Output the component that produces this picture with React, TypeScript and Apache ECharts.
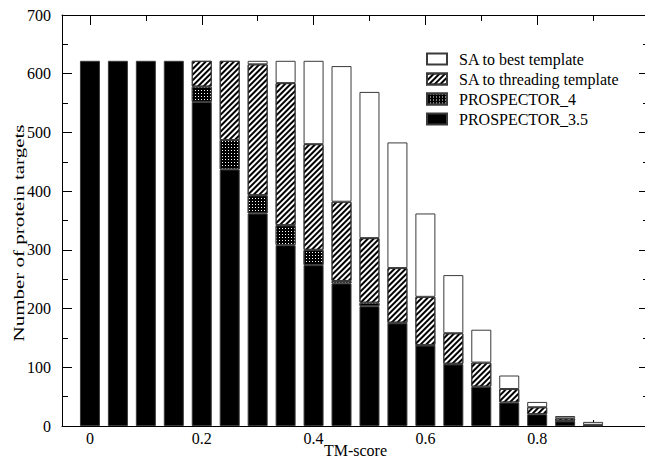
import React, { useEffect, useRef } from "react";
import * as echarts from "echarts";

const tmScores = [0, 0.05, 0.1, 0.15, 0.2, 0.25, 0.3, 0.35, 0.4, 0.45, 0.5, 0.55, 0.6, 0.65, 0.7, 0.75, 0.8, 0.85, 0.9, 0.95];
const prospector35 = [622, 622, 622, 622, 552, 437, 362, 308, 274, 243, 204, 175, 137, 105, 67, 40, 20, 8, 1, 0];
const prospector4 = [622, 622, 622, 622, 578, 487, 393, 342, 300, 247, 210, 176, 138, 106, 67, 40, 20, 9, 1, 0];
const saThreading = [622, 622, 622, 622, 622, 622, 616, 584, 480, 382, 320, 269, 220, 158, 108, 63, 32, 13, 2, 0];
const saBest = [622, 622, 622, 622, 622, 622, 622, 622, 622, 613, 569, 483, 362, 257, 164, 86, 41, 17, 7, 0];
const xMajorTicks = [0, 0.2, 0.4, 0.6, 0.8];
const xMinorTicks = [0.1, 0.3, 0.5, 0.7, 0.9];
const xMin = -0.05;
const xMax = 1.0;
const seriesNames = ["PROSPECTOR_3.5", "PROSPECTOR_4", "SA to threading template", "SA to best template"];
const legendOrder = ["SA to best template", "SA to threading template", "PROSPECTOR_4", "PROSPECTOR_3.5"];

const FONT = '"Liberation Serif", "Times New Roman", serif';

// hidden category axis spanning xMin..xMax so bar centres land on the TM-score values
const barCategories = [String(xMin), ...tmScores.map(String), String(xMax)];

function increments(cur: number[], prev: number[] | null) {
  const d = tmScores.map((_, i) => {
    const v = cur[i] - (prev ? prev[i] : 0);
    return v > 0 ? v : "-";
  });
  return ["-", ...d, "-"];
}

export default function App() {
  const ref = useRef<HTMLDivElement>(null);
  useEffect(() => {
    if (!ref.current) return;
    const chart = echarts.init(ref.current, null, { renderer: "svg" });
    const border = { borderColor: "#3a3a3a", borderWidth: 1 };
    const tickStyle = { color: "#000", width: 1 };
    const xCommon = { type: "value", min: xMin, max: xMax, splitLine: { show: false } };
    const lineOn = { show: true, onZero: false, lineStyle: tickStyle };
    const lineOff = { show: false, onZero: false };
    chart.setOption({
      animation: false,
      backgroundColor: "#fff",
      textStyle: { fontFamily: FONT },
      grid: { left: 62, top: 15, width: 587, height: 411, containLabel: false, outerBoundsMode: "none" },
      legend: {
        orient: "vertical",
        left: 421,
        top: 44,
        itemWidth: 20,
        itemHeight: 11,
        itemGap: 0,
        icon: "rect",
        data: legendOrder,
        textStyle: { fontFamily: FONT, fontSize: 16, color: "#000", lineHeight: 20, padding: [0, 0, 0, 7] },
      },
      xAxis: [
        {
          ...xCommon,
          position: "bottom",
          axisLine: lineOn,
          axisTick: { show: true, inside: true, length: 10, customValues: xMajorTicks, lineStyle: tickStyle },
          axisLabel: { customValues: xMajorTicks, fontSize: 16, color: "#000", fontFamily: FONT, margin: 4 },
          name: "TM-score",
          nameLocation: "middle",
          nameGap: 16,
          nameMoveOverlap: false,
          nameTextStyle: { fontSize: 16, color: "#000", fontFamily: FONT },
        },
        {
          ...xCommon,
          position: "top",
          axisLine: lineOn,
          axisTick: { show: true, inside: true, length: 10, customValues: xMajorTicks, lineStyle: tickStyle },
          axisLabel: { show: false },
        },
        {
          ...xCommon,
          position: "bottom",
          axisLine: lineOff,
          axisTick: { show: true, inside: true, length: 6, customValues: xMinorTicks, lineStyle: tickStyle },
          axisLabel: { show: false },
        },
        {
          ...xCommon,
          position: "top",
          axisLine: lineOff,
          axisTick: { show: true, inside: true, length: 6, customValues: xMinorTicks, lineStyle: tickStyle },
          axisLabel: { show: false },
        },
        {
          type: "category",
          data: barCategories,
          boundaryGap: false,
          position: "bottom",
          axisLine: lineOff,
          axisTick: { show: false },
          axisLabel: { show: false },
          splitLine: { show: false },
        },
      ],
      yAxis: [
        {
          type: "value",
          min: 0,
          max: 700,
          interval: 100,
          position: "left",
          axisLine: lineOn,
          axisTick: { show: true, inside: true, length: 10, lineStyle: tickStyle },
          minorTick: { show: true, splitNumber: 2, length: 6, lineStyle: tickStyle },
          axisLabel: { fontSize: 16, color: "#000", fontFamily: FONT, margin: 11 },
          splitLine: { show: false },
        },
        {
          type: "value",
          min: 0,
          max: 700,
          interval: 100,
          position: "right",
          axisLine: lineOn,
          axisTick: { show: true, inside: true, length: 10, lineStyle: tickStyle },
          minorTick: { show: true, splitNumber: 2, length: 6, lineStyle: tickStyle },
          axisLabel: { show: false },
          splitLine: { show: false },
        },
      ],
      graphic: [
        {
          type: "text",
          x: 19,
          y: 233,
          rotation: Math.PI / 2,
          scaleX: 1.4,
          style: {
            text: "Number of protein targets",
            font: '15px "Liberation Serif"',
            fill: "#000",
            align: "center",
            verticalAlign: "middle",
            textAlign: "center",
            textVerticalAlign: "middle",
          },
        },
      ],
      series: [
        {
          name: seriesNames[0],
          type: "bar",
          stack: "total",
          barWidth: 20,
          xAxisIndex: 4,
          data: increments(prospector35, null),
          itemStyle: { color: "#000", ...border },
        },
        {
          name: seriesNames[1],
          type: "bar",
          stack: "total",
          barWidth: 20,
          xAxisIndex: 4,
          data: increments(prospector4, prospector35),
          itemStyle: {
            color: "#000",
            ...border,
            decal: { symbol: "rect", symbolSize: 1, color: "#fff", dashArrayX: [1, 2], dashArrayY: [1, 2] },
          },
        },
        {
          name: seriesNames[2],
          type: "bar",
          stack: "total",
          barWidth: 20,
          xAxisIndex: 4,
          data: increments(saThreading, prospector4),
          itemStyle: {
            color: "#fff",
            ...border,
            decal: { symbol: "rect", symbolSize: 1, color: "#000", dashArrayX: [1, 0], dashArrayY: [1.6, 1.6], rotation: -Math.PI / 4 },
          },
        },
        {
          name: seriesNames[3],
          type: "bar",
          stack: "total",
          barWidth: 20,
          xAxisIndex: 4,
          data: increments(saBest, saThreading),
          itemStyle: { color: "#fff", ...border },
        },
      ],
    });
    return () => chart.dispose();
  }, []);
  return <div ref={ref} style={{ position: "fixed", left: 0, top: 0, width: 645, height: 462 }} />;
}
